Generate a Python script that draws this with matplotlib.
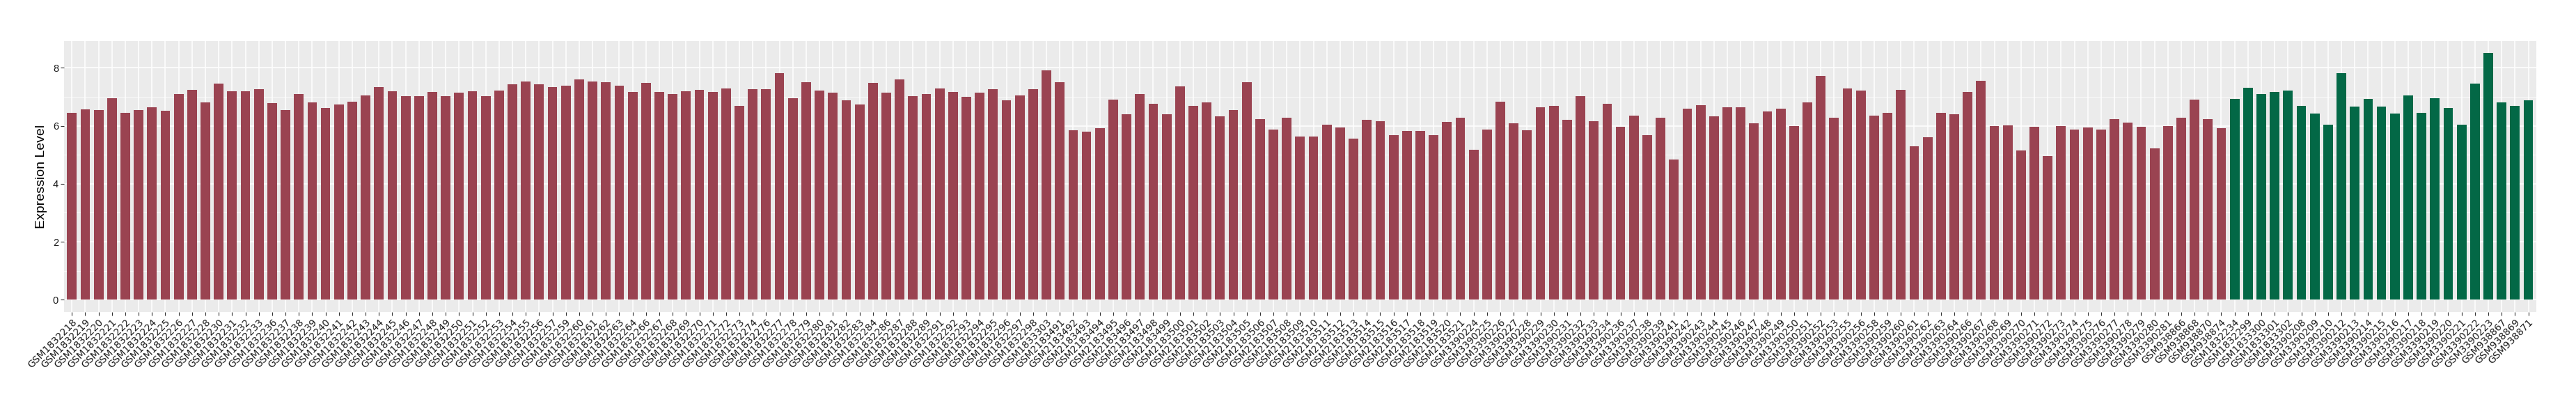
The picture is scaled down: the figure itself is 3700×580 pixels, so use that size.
import matplotlib
matplotlib.use('Agg')
import matplotlib.pyplot as plt
from matplotlib.ticker import MultipleLocator

# Muestras del primer grupo (barras rojas)
samples_red = [
    'GSM1832218', 'GSM1832219', 'GSM1832220', 'GSM1832221', 'GSM1832222', 'GSM1832223',
    'GSM1832224', 'GSM1832225', 'GSM1832226', 'GSM1832227', 'GSM1832228', 'GSM1832230',
    'GSM1832231', 'GSM1832232', 'GSM1832233', 'GSM1832236', 'GSM1832237', 'GSM1832238',
    'GSM1832239', 'GSM1832240', 'GSM1832241', 'GSM1832242', 'GSM1832243', 'GSM1832244',
    'GSM1832245', 'GSM1832246', 'GSM1832247', 'GSM1832248', 'GSM1832249', 'GSM1832250',
    'GSM1832251', 'GSM1832252', 'GSM1832253', 'GSM1832254', 'GSM1832255', 'GSM1832256',
    'GSM1832257', 'GSM1832259', 'GSM1832260', 'GSM1832261', 'GSM1832262', 'GSM1832263',
    'GSM1832264', 'GSM1832266', 'GSM1832267', 'GSM1832268', 'GSM1832269', 'GSM1832270',
    'GSM1832271', 'GSM1832272', 'GSM1832273', 'GSM1832274', 'GSM1832276', 'GSM1832277',
    'GSM1832278', 'GSM1832279', 'GSM1832280', 'GSM1832281', 'GSM1832282', 'GSM1832283',
    'GSM1832284', 'GSM1832286', 'GSM1832287', 'GSM1832288', 'GSM1832289', 'GSM1832291',
    'GSM1832292', 'GSM1832293', 'GSM1832294', 'GSM1832295', 'GSM1832296', 'GSM1832297',
    'GSM1832298', 'GSM1833303', 'GSM2183491', 'GSM2183492', 'GSM2183493', 'GSM2183494',
    'GSM2183495', 'GSM2183496', 'GSM2183497', 'GSM2183498', 'GSM2183499', 'GSM2183500',
    'GSM2183501', 'GSM2183502', 'GSM2183503', 'GSM2183504', 'GSM2183505', 'GSM2183506',
    'GSM2183507', 'GSM2183508', 'GSM2183509', 'GSM2183510', 'GSM2183511', 'GSM2183512',
    'GSM2183513', 'GSM2183514', 'GSM2183515', 'GSM2183516', 'GSM2183517', 'GSM2183518',
    'GSM2183519', 'GSM2183520', 'GSM2183521', 'GSM3390224', 'GSM3390225', 'GSM3390226',
    'GSM3390227', 'GSM3390228', 'GSM3390229', 'GSM3390230', 'GSM3390231', 'GSM3390232',
    'GSM3390233', 'GSM3390234', 'GSM3390236', 'GSM3390237', 'GSM3390238', 'GSM3390239',
    'GSM3390241', 'GSM3390242', 'GSM3390243', 'GSM3390244', 'GSM3390245', 'GSM3390246',
    'GSM3390247', 'GSM3390248', 'GSM3390249', 'GSM3390250', 'GSM3390251', 'GSM3390252',
    'GSM3390253', 'GSM3390255', 'GSM3390256', 'GSM3390258', 'GSM3390259', 'GSM3390260',
    'GSM3390261', 'GSM3390262', 'GSM3390263', 'GSM3390264', 'GSM3390266', 'GSM3390267',
    'GSM3390268', 'GSM3390269', 'GSM3390270', 'GSM3390271', 'GSM3390272', 'GSM3390273',
    'GSM3390274', 'GSM3390275', 'GSM3390276', 'GSM3390277', 'GSM3390278', 'GSM3390279',
    'GSM3390280', 'GSM3390281', 'GSM938866', 'GSM938868', 'GSM938870', 'GSM938874',
]

values_red = [
    6.45, 6.57, 6.54, 6.96, 6.45, 6.54, 6.64, 6.52, 7.09, 7.24, 6.81, 7.46, 7.19, 7.19,
    7.26, 6.79, 6.54, 7.09, 6.81, 6.61, 6.74, 6.84, 7.06, 7.34, 7.19, 7.03, 7.03,
    7.16, 7.03, 7.14, 7.19, 7.02, 7.21, 7.44, 7.54, 7.44, 7.34, 7.38, 7.61, 7.54, 7.51,
    7.38, 7.16, 7.49, 7.16, 7.09, 7.19, 7.24, 7.16, 7.28, 6.69, 7.26, 7.26, 7.81, 6.96,
    7.51, 7.21, 7.14,
    6.87, 6.74, 7.49, 7.14, 7.61, 7.03, 7.09, 7.28, 7.16, 6.99, 7.14, 7.26, 6.89, 7.06,
    7.26, 7.91, 7.51, 5.85, 5.79, 5.92, 6.91, 6.39, 7.09, 6.77, 6.39, 7.37, 6.69, 6.81,
    6.34, 6.54, 7.51,
    6.24, 5.87, 6.29, 5.62, 5.62, 6.04, 5.94, 5.57, 6.20, 6.17, 5.67, 5.82, 5.82, 5.67,
    6.14, 6.29, 5.18, 5.87, 6.84, 6.10, 5.85, 6.64, 6.69, 6.20, 7.02, 6.17, 6.77, 5.97,
    6.36, 5.69, 6.27, 4.83,
    6.59, 6.71, 6.32, 6.64, 6.64, 6.10, 6.49, 6.59, 6.00, 6.81, 7.73, 6.27, 7.28, 7.21,
    6.36, 6.45, 7.24, 5.30, 5.60, 6.46, 6.39, 7.16, 7.56, 6.00, 6.02, 5.15, 5.97, 4.97,
    6.00, 5.87, 5.94,
    5.87, 6.24, 6.11, 5.97, 5.22, 6.00, 6.27, 6.91, 6.24, 5.92,
]

# Muestras del segundo grupo (barras verdes)
samples_green = [
    'GSM1832234', 'GSM1832299', 'GSM1833300', 'GSM1833301', 'GSM1833302', 'GSM3390208',
    'GSM3390209', 'GSM3390210', 'GSM3390212', 'GSM3390213', 'GSM3390214', 'GSM3390215',
    'GSM3390216', 'GSM3390217', 'GSM3390218', 'GSM3390219', 'GSM3390220', 'GSM3390221',
    'GSM3390222', 'GSM3390223', 'GSM938867', 'GSM938869', 'GSM938871',
]

values_green = [
    6.94, 7.31, 7.09, 7.16, 7.21, 6.69, 6.42, 6.04, 7.81, 6.67, 6.94, 6.67, 6.42, 7.06,
    6.45, 6.96, 6.61, 6.04, 7.46, 8.51, 6.81, 6.69, 6.87,
]

color_red = '#9A4351'
color_green = '#036846'

samples = samples_red + samples_green
values = values_red + values_green
colors = [color_red] * len(samples_red) + [color_green] * len(samples_green)
x = list(range(len(samples)))

fig = plt.figure(figsize=(37, 5.8), dpi=100)
ax = fig.add_axes([0.0248, 0.2276, 0.9598, 0.6707])

# Fondo gris y rejilla blanca al estilo ggplot
ax.set_facecolor('#EBEBEB')
ax.set_axisbelow(True)
ax.yaxis.set_minor_locator(MultipleLocator(1))
ax.grid(which='major', axis='both', color='white', linewidth=1.1)
ax.grid(which='minor', axis='y', color='white', linewidth=0.55)
for spine in ax.spines.values():
    spine.set_visible(False)

ax.bar(x, values, width=0.72, color=colors)

ax.set_xlim(-0.6, len(samples) - 0.4)
ax.set_ylim(-0.425, 8.925)
ax.set_yticks([0, 2, 4, 6, 8])
ax.set_xticks(x)
ax.set_xticklabels(samples, rotation=45, ha='right', va='top', rotation_mode='anchor',
                   fontsize=10, family='DejaVu Sans', color='#1a1a1a')
for lab in ax.get_yticklabels():
    lab.set_family('Liberation Sans')
    lab.set_fontsize(10.5)
    lab.set_color('#1a1a1a')

ax.tick_params(axis='both', which='major', length=3.5, width=0.8, color='#333333', pad=2)
ax.tick_params(axis='y', which='minor', length=0)

ax.set_ylabel('Expression Level', fontsize=14, family='Liberation Sans', labelpad=6)

fig.savefig('out.png', dpi=100)
